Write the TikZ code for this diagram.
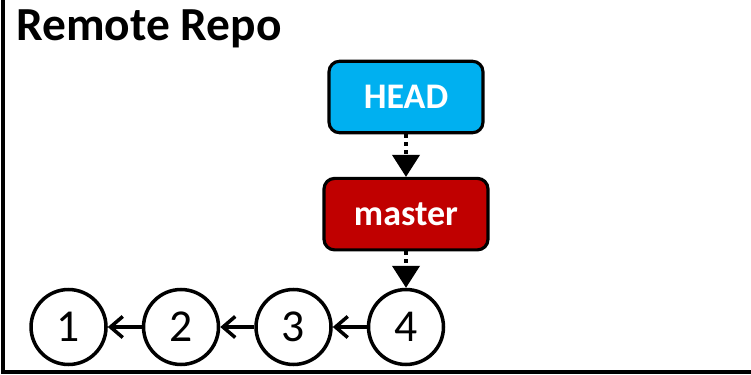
\documentclass[tikz,border=0pt]{standalone}
\usepackage{fontspec}
\setmainfont{Carlito}
\usepackage{xcolor}
\usepackage{tikz}
\usetikzlibrary{positioning,arrows.meta}
\definecolor{headblue}{HTML}{00B0F0}
\definecolor{masterred}{HTML}{C00000}

\begin{document}
\begin{tikzpicture}[
  x=0.02cm, y=-0.02cm,
  node distance=0.85cm,
  ref/.style={
    rectangle, rounded corners=6pt, draw, line width=1.8pt,
    minimum height=1.43cm, text=white, font=\bfseries\fontsize{20.5}{24}\selectfont
  },
  commit/.style={
    circle, draw, line width=2pt, minimum size=1.5cm, inner sep=0pt,
    font=\fontsize{26}{30}\selectfont
  },
  ptr/.style={line width=2.3pt, dash pattern=on 2.2pt off 2.2pt, -{Triangle[length=12.5pt,width=16pt,line width=0pt]}},
  parent/.style={line width=2pt, -{Straight Barb[length=7pt,width=12pt,line width=2pt]}}
]
\useasboundingbox (0,0) rectangle (751,375);
% frame of the repo
\draw[line width=2.3pt] (3,0) -- (3,372) -- (751,372);
\node[anchor=base west, inner sep=0pt, font=\bfseries\fontsize{27}{30}\selectfont] (title) at (16,41) {Remote Repo};
% branch pointers
\node[ref, fill=headblue, minimum width=3.08cm] (head) at (406,97) {HEAD};
\node[ref, fill=masterred, minimum width=3.28cm, below=of head] (master) {master};
% commits
\node[commit] (c4) at (406,327) {4};
\node[commit, left=0.68cm of c4] (c3) {3};
\node[commit, left=0.68cm of c3] (c2) {2};
\node[commit, left=0.68cm of c2] (c1) {1};
\draw[ptr] (head) -- (master);
\draw[ptr] (master) -- (c4);
\draw[parent] (c4) -- (c3);
\draw[parent] (c3) -- (c2);
\draw[parent] (c2) -- (c1);
\end{tikzpicture}
\end{document}
